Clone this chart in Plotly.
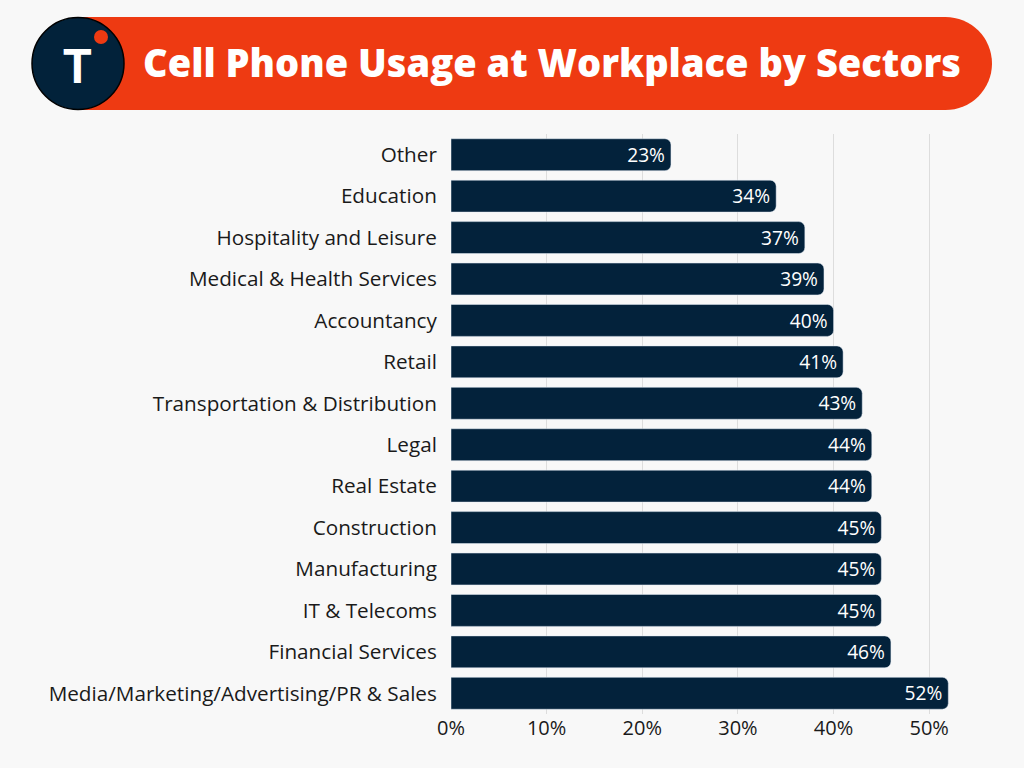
import plotly.graph_objects as go

categories = ["Other", "Education", "Hospitality and Leisure", "Medical & Health Services",
              "Accountancy", "Retail", "Transportation & Distribution", "Legal", "Real Estate",
              "Construction", "Manufacturing", "IT & Telecoms", "Financial Services",
              "Media/Marketing/Advertising/PR & Sales"]
values = [23, 34, 37, 39, 40, 41, 43, 44, 44, 45, 45, 45, 46, 52]
tick_vals = [0, 10, 20, 30, 40, 50]
tick_text = ["0%", "10%", "20%", "30%", "40%", "50%"]
title = "Cell Phone Usage at Workplace by Sectors"

W, H = 1024, 768
L, R, T, B = 451, 47, 134, 54
PW, PH = W - L - R, H - T - B
FONT = "Open Sans"

def px(x):
    return (x - L) / PW

def py(y):
    return 1 - (y - T) / PH

fig = go.Figure(go.Bar(
    x=values, y=categories, orientation="h",
    marker=dict(color="#03223B", cornerradius=6),
    text=[f"{v}%" for v in values], textposition="inside", insidetextanchor="end",
    textfont=dict(color="white", size=20, family=FONT),
    hoverinfo="skip",
))

fig.update_layout(
    width=W, height=H,
    margin=dict(l=L, r=R, t=T, b=B),
    paper_bgcolor="#F8F8F8", plot_bgcolor="#F8F8F8",
    bargap=0.23, showlegend=False,
    font=dict(family=FONT, color="#1A1A1A", size=18),
    xaxis=dict(range=[0, 55], tickvals=tick_vals, ticktext=tick_text,
               showgrid=True, gridcolor="#DDDDDD", gridwidth=1, zeroline=False,
               tickfont=dict(size=20, color="#1A1A1A"), ticks="", ticklen=0),
    yaxis=dict(autorange="reversed", tickfont=dict(size=20.7, color="#1A1A1A"),
               ticks="outside", ticklen=9, tickcolor="rgba(0,0,0,0)", showgrid=False),
)

# Banner pill
x0, x1, y0, y1 = 78, 992, 17, 110
r = (y1 - y0) / 2
fig.add_shape(type="circle", xref="paper", yref="paper",
              x0=px(x1 - 2 * r), x1=px(x1), y0=py(y1), y1=py(y0),
              fillcolor="#EE3A12", line=dict(width=0), layer="above")
fig.add_shape(type="rect", xref="paper", yref="paper",
              x0=px(x0), x1=px(x1 - r), y0=py(y1), y1=py(y0),
              fillcolor="#EE3A12", line=dict(width=0), layer="above")
# logo circle
cx, cy, cr = 78, 63.5, 46
fig.add_shape(type="circle", xref="paper", yref="paper",
              x0=px(cx - cr), x1=px(cx + cr), y0=py(cy + cr), y1=py(cy - cr),
              fillcolor="#02223A", line=dict(color="#000000", width=1.5), layer="above")
dx, dy, dr = 101, 37, 7
fig.add_shape(type="circle", xref="paper", yref="paper",
              x0=px(dx - dr), x1=px(dx + dr), y0=py(dy + dr), y1=py(dy - dr),
              fillcolor="#EE3A12", line=dict(width=0), layer="above")
fig.add_annotation(x=px(77), y=py(66), xref="paper", yref="paper", text="<b>T</b>",
                   showarrow=False, font=dict(family="Inter", size=46, color="white"),
                   xanchor="center", yanchor="middle")
fig.add_annotation(x=px(552), y=py(62), xref="paper", yref="paper", text=title,
                   showarrow=False, font=dict(family="Open Sans", size=38, color="white", weight=800),
                   xanchor="center", yanchor="middle")

fig.write_html("out.html")
